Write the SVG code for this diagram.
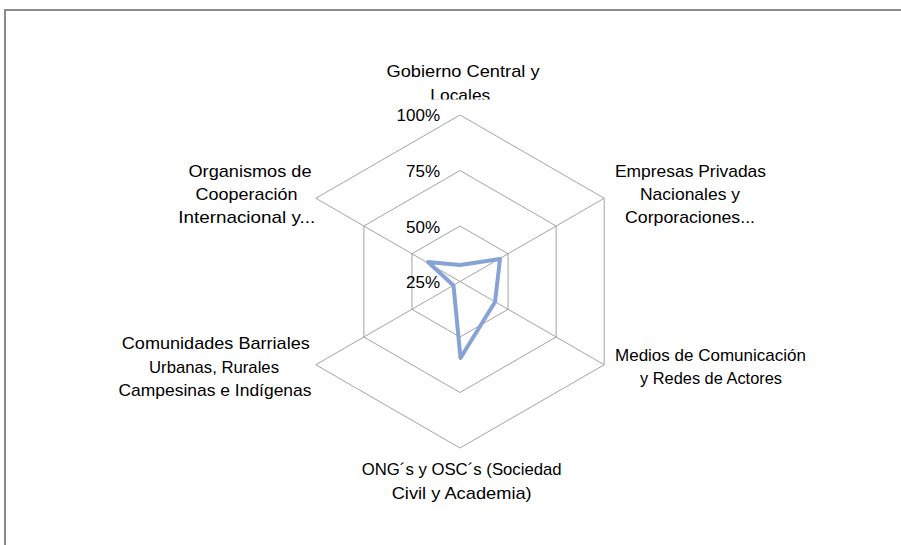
<svg xmlns="http://www.w3.org/2000/svg" width="901" height="545" viewBox="0 0 901 545">
  <defs>
    <style>
      .frame { fill: none; stroke: #8a8a8a; stroke-width: 2; }
      .grid { fill: none; stroke: #a3a3a3; stroke-width: 1; }
      .series { fill: none; stroke: #87a3d5; stroke-width: 4; stroke-linejoin: round; stroke-linecap: round; }
      .cat { font-family: "Liberation Sans", Arial, sans-serif; font-size: 17px; fill: #000; text-anchor: middle; }
      .tick { font-family: "Liberation Sans", Arial, sans-serif; font-size: 17px; fill: #000; text-anchor: end; }
    </style>
    <clipPath id="clipTop">
      <rect x="380" y="50" width="170" height="49.6"/>
    </clipPath>
  </defs>
  <rect x="0" y="0" width="901" height="545" fill="#ffffff"/>
  <path class="frame" d="M5,545 V10 H901"/>

  <g id="grid">
    <polygon class="grid" points="460,226 508.06,253.75 508.06,309.25 460,337 411.94,309.25 411.94,253.75"/>
    <polygon class="grid" points="460,170.5 556.13,226 556.13,337 460,392.5 363.87,337 363.87,226"/>
    <polyline class="grid" points="315.81,364.75 460,448 604.19,364.75 604.19,198.25 460,115 315.81,198.25"/>
    <line class="grid" x1="460" y1="281.5" x2="315.81" y2="198.25"/>
    <line class="grid" x1="460" y1="281.5" x2="604.19" y2="198.25"/>
    <line class="grid" x1="460" y1="281.5" x2="604.19" y2="364.75"/>
    <line class="grid" x1="460" y1="281.5" x2="315.81" y2="364.75"/>
  </g>

  <g id="axis-labels">
    <text class="tick" x="440" y="121">100%</text>
    <text class="tick" x="440" y="177">75%</text>
    <text class="tick" x="440" y="232.5">50%</text>
    <text class="tick" x="440" y="288">25%</text>
  </g>

  <g id="series">
    <polygon class="series" points="460,265 500,259 495,302 460.5,358 453.5,285.5 428,262"/>
  </g>

  <g id="label-gobierno">
    <text class="cat" x="463" y="76.7" textLength="153" lengthAdjust="spacingAndGlyphs">Gobierno Central y</text>
    <text class="cat" x="460.3" y="100.7" textLength="60" lengthAdjust="spacingAndGlyphs" clip-path="url(#clipTop)">Locales</text>
  </g>
  <g id="label-empresas">
    <text class="cat" x="690.5" y="176.5" textLength="151" lengthAdjust="spacingAndGlyphs">Empresas Privadas</text>
    <text class="cat" x="690" y="199.5" textLength="100" lengthAdjust="spacingAndGlyphs">Nacionales y</text>
    <text class="cat" x="690" y="223" textLength="130" lengthAdjust="spacingAndGlyphs">Corporaciones...</text>
  </g>
  <g id="label-medios">
    <text class="cat" x="710.5" y="360.5" textLength="191" lengthAdjust="spacingAndGlyphs">Medios de Comunicación</text>
    <text class="cat" x="711" y="384" textLength="142" lengthAdjust="spacingAndGlyphs">y Redes de Actores</text>
  </g>
  <g id="label-ong">
    <text class="cat" x="461.7" y="475" textLength="200" lengthAdjust="spacingAndGlyphs">ONG´s y OSC´s (Sociedad</text>
    <text class="cat" x="461.7" y="499" textLength="140" lengthAdjust="spacingAndGlyphs">Civil y Academia)</text>
  </g>
  <g id="label-comunidades">
    <text class="cat" x="215.8" y="349" textLength="188" lengthAdjust="spacingAndGlyphs">Comunidades Barriales</text>
    <text class="cat" x="214" y="372.5" textLength="130" lengthAdjust="spacingAndGlyphs">Urbanas, Rurales</text>
    <text class="cat" x="215" y="396" textLength="193" lengthAdjust="spacingAndGlyphs">Campesinas e Indígenas</text>
  </g>
  <g id="label-organismos">
    <text class="cat" x="250" y="176.5" textLength="123" lengthAdjust="spacingAndGlyphs">Organismos de</text>
    <text class="cat" x="246.5" y="199.5" textLength="102" lengthAdjust="spacingAndGlyphs">Cooperación</text>
    <text class="cat" x="246.7" y="223" textLength="137" lengthAdjust="spacingAndGlyphs">Internacional y...</text>
  </g>
</svg>
